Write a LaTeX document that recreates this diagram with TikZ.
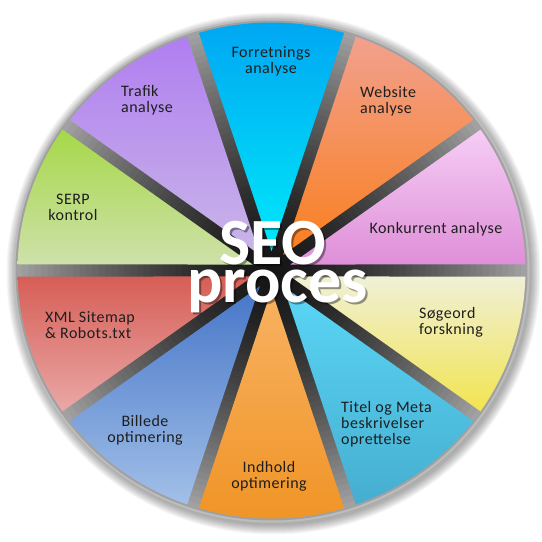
\documentclass[tikz,border=0pt]{standalone}
\usepackage{fontspec}
\setmainfont{Carlito}
\newfontfamily\labelfont[LetterSpace=3]{Carlito}
\definecolor{txt}{HTML}{1E1E1E}
\definecolor{ringgray}{HTML}{BDBDBD}
\definecolor{w0t}{HTML}{F6CDF5}\definecolor{w0b}{HTML}{DE8FD8}
\definecolor{w1t}{HTML}{F2A08E}\definecolor{w1b}{HTML}{F97F1E}
\definecolor{w2t}{HTML}{00A6F2}\definecolor{w2b}{HTML}{00E8FA}
\definecolor{w3t}{HTML}{B07EF0}\definecolor{w3b}{HTML}{C9B6E8}
\definecolor{w4t}{HTML}{A6D848}\definecolor{w4b}{HTML}{CEE1AA}
\definecolor{w5t}{HTML}{D65E56}\definecolor{w5b}{HTML}{EAA8A6}
\definecolor{w6t}{HTML}{4676C8}\definecolor{w6b}{HTML}{A2C0E8}
\definecolor{w7t}{HTML}{F8B262}\definecolor{w7b}{HTML}{F09426}
\definecolor{w8t}{HTML}{5AD6F6}\definecolor{w8b}{HTML}{46AED0}
\definecolor{w9t}{HTML}{F0F0D6}\definecolor{w9b}{HTML}{F2E450}
\begin{document}
\begin{tikzpicture}[x=1pt,y=1pt,
  lbl/.style={font=\labelfont\fontsize{16}{16}\selectfont, text=txt, inner sep=0pt},
  titletext/.style={font=\fontsize{66}{66}\selectfont\bfseries, inner sep=0pt, anchor=base}]
\useasboundingbox (0,0) rectangle (542,542);
\fill[white] (0,0) rectangle (542,542);
\coordinate (C) at (271.5,271.5);
% soft shadow
\foreach \k in {0,...,9} {
  \pgfmathsetmacro\rx{258+\k}
  \pgfmathsetmacro\ry{252+\k}
  \fill[black,opacity=0.035] ([shift={(2,-3)}]C) ellipse [x radius=\rx, y radius=\ry];
}
% outer ring
\fill[ringgray] (C) ellipse [x radius=258, y radius=252];
\begin{scope}[shift={(C)}, xscale=1.024]
  % gap background (dark centre, grey rim)
  \foreach \i in {0,...,39} {
    \pgfmathsetmacro\t{1-\i/40}
    \pgfmathsetmacro\g{0.08+0.55*\t*sqrt(\t)}
    \definecolor{gapc}{gray}{\g}
    \pgfmathsetmacro\rr{250*\t}
    \fill[gapc] (0,0) circle[radius=\rr];
  }
  % wedges
  \foreach \k/\ct/\cb in {0/w0t/w0b,1/w1t/w1b,2/w2t/w2b,3/w3t/w3b,4/w4t/w4b,
                          5/w5t/w5b,6/w6t/w6b,7/w7t/w7b,8/w8t/w8b,9/w9t/w9b} {
    \pgfmathsetmacro\a{36*\k+1.39}
    \pgfmathsetmacro\b{36*\k+36-1.39}
    \pgfmathsetmacro\m{36*\k+18}
    \shade[top color=\ct, bottom color=\cb]
      (\m:19.4) -- (\a:248) arc[start angle=\a, end angle=\b, radius=248] -- cycle;
  }
\end{scope}
% labels
\node[lbl, align=center] (forr) at (271,481) {Forretnings\\analyse};
\node[lbl, align=left, anchor=west] (web) at (360,441) {Website\\analyse};
\node[lbl] (konk) at (436,313) {Konkurrent analyse};
\node[lbl, align=left, anchor=west] (soeg) at (419,220) {Søgeord\\forskning};
\node[lbl, align=left, anchor=west] (titel) at (341,118) {Titel og Meta\\beskrivelser\\oprettelse};
\node[lbl, align=center] (indh) at (269,66) {Indhold\\optimering};
\node[lbl, align=center] (bill) at (145,112) {Billede\\optimering};
\node[lbl, align=left, anchor=west] (xml) at (45,217) {XML Sitemap\\\& Robots.txt};
\node[lbl, align=center] (serp) at (73,335) {SERP\\kontrol};
\node[lbl, align=left, anchor=west] (traf) at (121,442) {Trafik\\analyse};
% title with shadow
\node[titletext, text=black, opacity=0.4] (seosh) at (274.5,275) {SEO};
\node[titletext, text=black, opacity=0.4] (procsh) at (279.5,237) {proces};
\node[titletext, text=white] (seo) at (272.5,277) {SEO};
\node[titletext, text=white] (proces) at (277.5,239) {proces};
\end{tikzpicture}
\end{document}
